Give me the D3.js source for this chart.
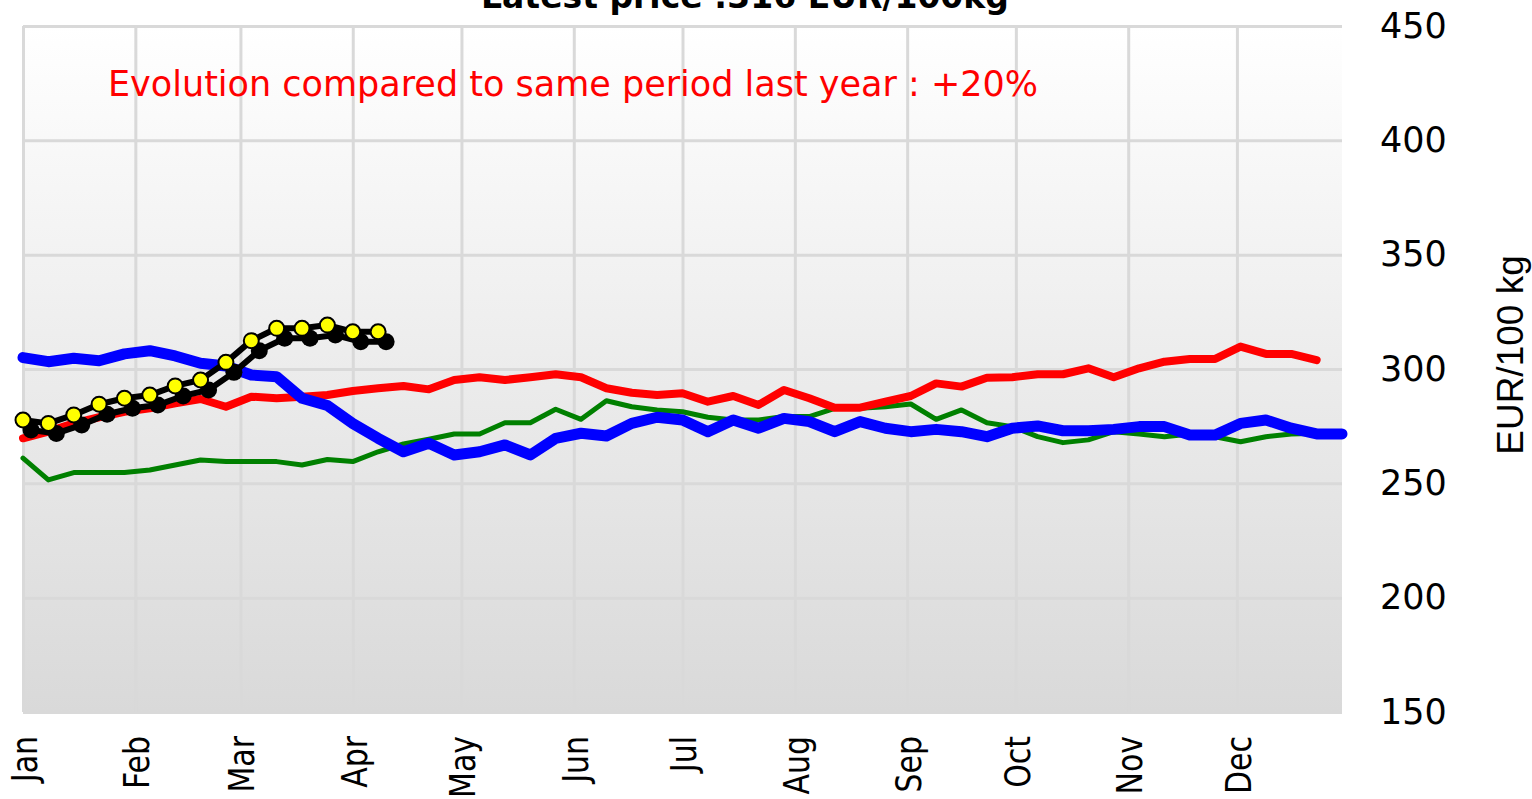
<!DOCTYPE html>
<html lang="en">
<head>
    <meta charset="UTF-8">
    <title>Price chart</title>
    <script src="https://cdn.jsdelivr.net/npm/d3@7"></script>
    <style>
        body { margin: 0; background: #fff; }
        text { font-family: "DejaVu Sans", Verdana, sans-serif; }
    </style>
</head>
<body>
<div id="chart"></div>
<script>
    // weekly prices, EUR/100 kg, starting first week of January
    let yellowSeries = [277.7, 276.2, 279.9, 284.6, 287.2, 288.6, 292.6, 295.2, 302.9, 312.4,
        317.8, 317.8, 319.2, 316.3, 316.3];

    let redSeries = [269.7, 272.6, 276.2, 278.9, 281.3, 282.8, 285.0, 286.9, 283.5, 287.9,
        287.2, 287.9, 288.6, 290.4, 291.6, 292.6, 291.1, 295.2, 296.4, 295.2,
        296.4, 297.7, 296.4, 291.6, 289.6, 288.6, 289.4, 285.7, 288.2, 284.3,
        290.8, 287.2, 283.1, 283.1, 285.7, 288.2, 293.7, 292.3, 296.2, 296.4,
        297.7, 297.7, 300.3, 296.4, 300.3, 303.2, 304.4, 304.4, 309.8, 306.6,
        306.6, 303.9];

    let greenSeries = [261.0, 251.5, 254.7, 254.7, 254.7, 255.8, 258.0, 260.2, 259.5, 259.5,
        259.5, 258.0, 260.4, 259.5, 263.8, 267.2, 269.3, 271.6, 271.6, 276.5,
        276.5, 282.4, 278.0, 286.1, 283.5, 282.1, 281.3, 278.9, 277.7, 277.7,
        279.2, 279.2, 282.8, 282.8, 283.5, 284.7, 278.0, 282.1, 276.5, 274.8,
        270.4, 267.8, 269.0, 272.6, 271.6, 270.4, 271.6, 270.4, 268.2, 270.4,
        271.6, 271.9];

    let blueSeries = [305.0, 303.2, 304.7, 303.6, 306.6, 308.0, 305.7, 302.5, 301.3, 297.4,
        296.6, 287.2, 284.0, 276.2, 269.7, 263.8, 267.5, 262.4, 263.8, 266.8,
        262.4, 269.7, 271.9, 270.7, 276.2, 278.9, 277.7, 272.6, 277.7, 274.1,
        278.4, 277.0, 272.6, 277.0, 274.1, 272.6, 273.6, 272.6, 270.4, 274.1,
        275.1, 273.0, 273.0, 273.6, 274.8, 274.8, 271.1, 271.1, 276.2, 277.7,
        274.1, 271.6, 271.6];

    let yTicks = [150, 200, 250, 300, 350, 400, 450];
    let titleText = "Latest price :316 EUR/100kg";
    let noteText = "Evolution compared to same period last year : +20%";
    let yLabel = "EUR/100 kg";

    let width = 1532;
    let height = 799;
    let plot = { left: 23, right: 1342, top: 26, bottom: 712 };

    let start = new Date(2024, 0, 1);
    let x = d3.scaleTime()
        .domain([start, new Date(2024, 11, 30)])
        .range([plot.left, plot.right]);

    let y = d3.scaleLinear()
        .domain([150, 450])
        .range([plot.bottom, plot.top]);

    let svg = d3.select("#chart")
        .append("svg")
        .attr("width", width)
        .attr("height", height);

    let defs = svg.append("defs");
    let grad = defs.append("linearGradient")
        .attr("id", "bg")
        .attr("x1", 0).attr("y1", 0).attr("x2", 0).attr("y2", 1);
    grad.append("stop").attr("offset", "0%").attr("stop-color", "#ffffff");
    grad.append("stop").attr("offset", "100%").attr("stop-color", "#d9d9d9");

    defs.append("filter")
        .attr("id", "soft")
        .append("feGaussianBlur")
        .attr("stdDeviation", 0.7);

    svg.append("rect")
        .attr("x", plot.left)
        .attr("y", plot.top)
        .attr("width", plot.right - plot.left)
        .attr("height", plot.bottom - plot.top)
        .attr("fill", "url(#bg)");

    // horizontal grid + right tick labels
    let yAxis = d3.axisRight(y)
        .tickValues(yTicks)
        .tickSize(-(plot.right - plot.left))
        .tickPadding(38);

    let gy = svg.append("g")
        .attr("transform", `translate(${plot.right}, 0)`)
        .call(yAxis);
    gy.select(".domain").remove();
    gy.selectAll("line").attr("stroke", "#d9d9d9").attr("stroke-width", 3);
    gy.selectAll("text")
        .attr("fill", "#000")
        .style("font-size", "35px")
        .style("font-family", "DejaVu Sans, Verdana, sans-serif");

    // vertical month grid + labels (glyphs a little taller than wide, as in the original)
    let xAxis = d3.axisBottom(x)
        .ticks(d3.timeMonth.every(1))
        .tickFormat(d3.timeFormat("%b"))
        .tickSize(-(plot.bottom - plot.top));

    let gx = svg.append("g")
        .attr("transform", `translate(0, ${plot.bottom})`)
        .call(xAxis);
    gx.select(".domain").remove();
    gx.selectAll("line").attr("stroke", "#d9d9d9").attr("stroke-width", 3);
    gx.selectAll("text")
        .attr("fill", "#000")
        .attr("transform", "rotate(-90) scale(1, 1.17)")
        .attr("x", -24)
        .attr("y", 0)
        .attr("dy", "0.38em")
        .attr("text-anchor", "end")
        .style("font-size", "30px")
        .style("font-family", "DejaVu Sans, Verdana, sans-serif");

    let weekDate = i => d3.timeDay.offset(start, 7 * i);
    let line = d3.line()
        .x((d, i) => x(weekDate(i)))
        .y(d => y(d));

    function drawLine(values, color, w) {
        svg.append("path")
            .datum(values)
            .attr("d", line)
            .attr("fill", "none")
            .attr("stroke", color)
            .attr("stroke-width", w)
            .attr("stroke-linejoin", "round")
            .attr("stroke-linecap", "round");
    }

    drawLine(greenSeries, "#008000", 5);
    drawLine(redSeries, "#ff0000", 8);
    drawLine(blueSeries, "#0000ff", 11);

    // current year: black line with yellow markers and a drop shadow
    let shadow = svg.append("g")
        .attr("transform", "translate(8, 10)")
        .attr("filter", "url(#soft)");
    shadow.append("path")
        .datum(yellowSeries)
        .attr("d", line)
        .attr("fill", "none")
        .attr("stroke", "#000")
        .attr("stroke-width", 6);
    shadow.selectAll("circle")
        .data(yellowSeries)
        .join("circle")
        .attr("cx", (d, i) => x(weekDate(i)))
        .attr("cy", d => y(d))
        .attr("r", 8.5)
        .attr("fill", "#000");

    drawLine(yellowSeries, "#000", 6);
    svg.append("g")
        .selectAll("circle")
        .data(yellowSeries)
        .join("circle")
        .attr("cx", (d, i) => x(weekDate(i)))
        .attr("cy", d => y(d))
        .attr("r", 7.5)
        .attr("fill", "#ffff00")
        .attr("stroke", "#000")
        .attr("stroke-width", 2);

    svg.append("text")
        .attr("x", 745)
        .attr("y", 8)
        .attr("text-anchor", "middle")
        .style("font-size", "33px")
        .style("font-weight", "bold")
        .text(titleText);

    svg.append("text")
        .attr("x", 108)
        .attr("y", 96)
        .attr("fill", "#ff0000")
        .style("font-size", "35px")
        .text(noteText);

    svg.append("text")
        .attr("transform", "translate(1523, 355) rotate(-90)")
        .attr("text-anchor", "middle")
        .style("font-family", "Liberation Sans, Arial, sans-serif")
        .style("font-size", "37px")
        .text(yLabel);
</script>
</body>
</html>
